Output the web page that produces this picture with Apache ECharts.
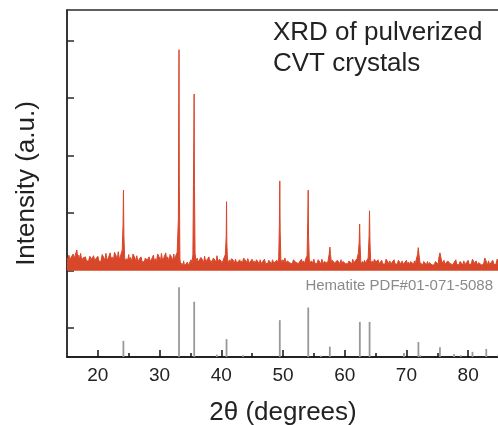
<!DOCTYPE html>
<html>
<head>
<meta charset="utf-8">
<script src="https://cdn.jsdelivr.net/npm/echarts@6/dist/echarts.min.js"></script>
<style>
  html, body { margin: 0; padding: 0; background: #fff; }
  #main { width: 498px; height: 425px; }
</style>
</head>
<body>
<div id="main"></div>
<script>
// measured XRD pattern, [2theta, intensity] (intensity in arbitrary units)
var pattern = [
  [15.0,1.72],[15.2,1.68],[15.3,1.77],[15.5,1.69],[15.7,1.74],
  [16.0,1.79],[16.15,1.70],[16.3,1.76],[16.6,1.86],[16.75,1.71],
  [16.9,1.77],[17.05,1.69],[17.2,1.80],[17.4,1.68],[17.6,1.72],
  [18.0,1.74],[18.15,1.67],[18.3,1.70],[18.5,1.67],[18.7,1.75],
  [19.0,1.70],[19.15,1.67],[19.3,1.76],[19.5,1.67],[19.7,1.71],
  [20.0,1.75],[20.15,1.67],[20.3,1.70],[20.5,1.66],[20.7,1.78],
  [21.0,1.72],[21.15,1.67],[21.3,1.80],[21.5,1.68],[21.7,1.72],
  [22.0,1.81],[22.15,1.68],[22.3,1.74],[22.5,1.67],[22.7,1.82],
  [23.0,1.75],[23.15,1.69],[23.3,1.83],[23.5,1.69],[23.7,1.77],
  [23.95,1.86],[24.08,2.30],[24.15,2.90],[24.22,2.10],[24.35,1.72],
  [24.5,1.67],[24.7,1.71],[24.85,1.67],[25.0,1.78],[25.15,1.67],[25.3,1.73],[25.5,1.66],[25.7,1.79],
  [26.0,1.72],[26.15,1.66],[26.3,1.76],[26.5,1.66],[26.7,1.70],
  [27.0,1.74],[27.15,1.66],[27.3,1.69],[27.5,1.65],[27.7,1.72],
  [28.0,1.68],[28.15,1.65],[28.3,1.74],[28.5,1.66],[28.7,1.70],
  [29.0,1.77],[29.15,1.66],[29.3,1.71],[29.5,1.66],[29.7,1.79],
  [30.0,1.72],[30.15,1.67],[30.3,1.80],[30.5,1.67],[30.7,1.73],
  [31.0,1.81],[31.15,1.68],[31.3,1.74],[31.5,1.67],[31.7,1.78],
  [32.0,1.72],[32.15,1.67],[32.3,1.79],[32.45,1.68],[32.6,1.75],[32.85,1.82],
  [33.05,2.40],[33.1,4.05],[33.15,5.34],[33.2,3.00],[33.3,1.70],
  [33.45,1.58],[33.6,1.63],[33.75,1.57],[33.9,1.67],[34.05,1.58],[34.2,1.60],[34.35,1.57],
  [34.5,1.65],[34.65,1.59],[34.8,1.62],[34.95,1.59],[35.1,1.69],[35.25,1.62],[35.4,1.78],
  [35.55,3.80],[35.6,4.57],[35.65,3.00],[35.75,1.80],
  [35.9,1.66],[36.1,1.72],[36.25,1.65],[36.4,1.68],[36.55,1.64],[36.7,1.73],
  [37.0,1.68],[37.15,1.64],[37.3,1.75],[37.5,1.65],[37.7,1.69],
  [38.0,1.74],[38.15,1.64],[38.3,1.68],[38.5,1.64],[38.7,1.72],
  [39.0,1.68],[39.15,1.64],[39.3,1.76],[39.5,1.65],[39.7,1.70],
  [40.0,1.73],[40.15,1.64],[40.3,1.68],[40.45,1.65],[40.65,1.78],
  [40.8,2.10],[40.85,2.70],[40.9,2.00],[41.0,1.70],
  [41.2,1.64],[41.4,1.69],[41.55,1.64],[41.7,1.71],
  [42.0,1.67],[42.15,1.63],[42.3,1.70],[42.5,1.63],[42.7,1.66],
  [43.0,1.69],[43.15,1.63],[43.3,1.67],[43.45,1.63],[43.6,1.72],
  [44.0,1.67],[44.15,1.63],[44.3,1.71],[44.5,1.63],[44.7,1.66],
  [45.0,1.70],[45.15,1.63],[45.3,1.67],[45.5,1.63],[45.7,1.69],
  [46.0,1.66],[46.15,1.62],[46.3,1.69],[46.5,1.62],[46.7,1.66],
  [47.0,1.70],[47.15,1.63],[47.3,1.66],[47.5,1.62],[47.7,1.68],
  [48.0,1.66],[48.15,1.62],[48.3,1.69],[48.5,1.63],[48.7,1.65],
  [49.0,1.68],[49.15,1.63],[49.3,1.72],[49.42,2.30],[49.48,3.06],[49.54,2.20],[49.65,1.70],
  [49.8,1.64],[50.0,1.69],[50.15,1.63],[50.3,1.72],[50.5,1.63],[50.7,1.67],
  [51.0,1.70],[51.15,1.63],[51.3,1.66],[51.5,1.62],[51.7,1.69],
  [52.0,1.65],[52.15,1.62],[52.3,1.68],[52.5,1.62],[52.7,1.66],
  [53.0,1.70],[53.15,1.63],[53.3,1.67],[53.5,1.63],[53.7,1.71],
  [53.9,1.76],[54.02,2.40],[54.08,2.90],[54.14,2.10],[54.25,1.70],
  [54.4,1.63],[54.6,1.67],[54.8,1.63],[55.0,1.70],[55.15,1.63],[55.3,1.66],[55.5,1.62],[55.7,1.69],
  [56.0,1.66],[56.15,1.62],[56.3,1.70],[56.5,1.62],[56.7,1.66],
  [57.0,1.68],[57.15,1.63],[57.3,1.67],[57.5,1.80],[57.6,1.91],[57.7,1.78],[57.85,1.64],
  [58.0,1.68],[58.2,1.70],[58.35,1.63],[58.5,1.66],[58.65,1.62],[58.8,1.68],
  [59.1,1.65],[59.25,1.62],[59.4,1.69],[59.55,1.62],[59.7,1.66],
  [60.0,1.68],[60.15,1.62],[60.3,1.65],[60.5,1.62],[60.7,1.67],
  [61.0,1.65],[61.15,1.62],[61.3,1.70],[61.5,1.63],[61.7,1.67],
  [62.0,1.71],[62.2,1.80],[62.35,2.00],[62.42,2.31],[62.49,1.95],[62.6,1.66],
  [62.75,1.62],[62.9,1.66],[63.05,1.62],[63.2,1.68],[63.35,1.63],[63.5,1.66],[63.65,1.63],[63.8,1.72],
  [63.95,2.10],[64.02,2.54],[64.09,2.00],[64.2,1.68],
  [64.35,1.63],[64.5,1.67],[64.65,1.62],[64.8,1.70],
  [65.1,1.65],[65.25,1.62],[65.4,1.69],[65.55,1.62],[65.7,1.65],
  [66.0,1.68],[66.15,1.62],[66.3,1.65],[66.5,1.61],[66.7,1.70],
  [67.0,1.65],[67.15,1.61],[67.3,1.67],[67.5,1.61],[67.7,1.65],
  [68.0,1.69],[68.15,1.62],[68.3,1.65],[68.5,1.61],[68.7,1.68],
  [69.0,1.65],[69.15,1.61],[69.3,1.67],[69.5,1.61],[69.7,1.64],
  [70.0,1.68],[70.15,1.61],[70.3,1.65],[70.5,1.61],[70.7,1.66],
  [71.0,1.64],[71.15,1.61],[71.3,1.67],[71.45,1.62],[71.6,1.70],[71.8,1.78],[71.92,1.90],[72.05,1.76],[72.2,1.64],
  [72.35,1.61],[72.5,1.64],[72.65,1.60],[72.8,1.66],
  [73.1,1.63],[73.25,1.60],[73.4,1.66],[73.55,1.60],[73.7,1.64],
  [74.0,1.67],[74.15,1.60],[74.3,1.63],[74.5,1.60],[74.7,1.66],
  [75.0,1.64],[75.15,1.61],[75.25,1.72],[75.43,1.81],[75.6,1.72],[75.8,1.63],
  [75.95,1.61],[76.1,1.68],[76.25,1.61],[76.4,1.64],[76.55,1.60],[76.7,1.67],
  [77.0,1.63],[77.15,1.60],[77.3,1.66],[77.5,1.60],[77.7,1.64],
  [78.0,1.69],[78.15,1.61],[78.3,1.64],[78.5,1.60],[78.7,1.66],
  [79.0,1.63],[79.15,1.60],[79.3,1.67],[79.5,1.60],[79.7,1.64],
  [80.0,1.68],[80.15,1.61],[80.3,1.64],[80.5,1.61],[80.7,1.70],
  [81.0,1.63],[81.15,1.60],[81.3,1.67],[81.5,1.60],[81.7,1.64],
  [82.0,1.66],[82.15,1.60],[82.3,1.63],[82.5,1.61],[82.7,1.72],
  [83.0,1.64],[83.15,1.60],[83.3,1.67],[83.5,1.60],[83.7,1.64],
  [84.0,1.68],[84.15,1.61],[84.3,1.64],[84.5,1.61],[84.7,1.70],[85.0,1.66]
];

// hematite reference lines (PDF#01-071-5088)
var refAngle = [24.14, 33.15, 35.61, 39.28, 40.85, 43.52, 49.48, 54.09, 56.15, 57.59,
  62.45, 64.03, 69.6, 71.94, 72.26, 75.43, 77.73, 78.8, 80.7, 82.94, 84.9];
var refInt = [0.28, 1.21, 0.96, 0.04, 0.31, 0.03, 0.64, 0.86, 0.02, 0.18,
  0.61, 0.61, 0.07, 0.26, 0.03, 0.17, 0.05, 0.03, 0.09, 0.14, 0.04];

var majorTicks = [20, 30, 40, 50, 60, 70, 80];
var minorTicks = [25, 35, 45, 55, 65, 75];
var yTicks = [0.5, 1.5, 2.5, 3.5, 4.5, 5.5];
var baseline = 1.5;

var refData = refAngle.map(function (a, i) { return [a, refInt[i]]; });

var chart = echarts.init(document.getElementById('main'), null, { renderer: 'canvas' });
var font = 'Liberation Sans, Arial, sans-serif';

var option = {
  animation: false,
  grid: {
    left: 67, right: -1, top: 10, bottom: 68,
    outerBoundsMode: 'none',
    containLabel: false,
    show: true, borderColor: '#2a2a2a', borderWidth: 1.5
  },
  xAxis: [{
    type: 'value',
    min: 15, max: 85,
    name: '2θ (degrees)',
    nameLocation: 'middle',
    nameGap: 43,
    nameTextStyle: { fontFamily: font, fontSize: 26, color: '#222' },
    axisLine: { lineStyle: { color: '#111', width: 1.5 } },
    axisTick: { inside: true, length: 7, customValues: majorTicks, lineStyle: { color: '#111', width: 1.5 } },
    axisLabel: { customValues: majorTicks, fontFamily: font, fontSize: 19, color: '#222', margin: 9 },
    splitLine: { show: false }
  }, {
    type: 'value',
    min: 15, max: 85,
    position: 'bottom',
    axisLine: { show: false },
    axisTick: { inside: true, length: 4, customValues: minorTicks, lineStyle: { color: '#111', width: 1.5 } },
    axisLabel: { show: false },
    splitLine: { show: false }
  }],
  yAxis: {
    type: 'value',
    min: 0, max: 6.03,
    name: 'Intensity (a.u.)',
    nameLocation: 'middle',
    nameGap: 27,
    nameTextStyle: { fontFamily: font, fontSize: 26, color: '#222' },
    axisLine: { show: true, lineStyle: { color: '#2a2a2a', width: 1.5 } },
    axisTick: { inside: true, length: 7, customValues: yTicks, lineStyle: { color: '#2a2a2a', width: 1.5 } },
    axisLabel: { show: false },
    splitLine: { show: false }
  },
  graphic: [{
    type: 'text', left: 273, top: 17,
    style: { text: 'XRD of pulverized\nCVT crystals', font: '26px ' + font, fill: '#222', lineHeight: 31 }
  }, {
    type: 'text', right: 5, top: 278,
    style: { text: 'Hematite PDF#01-071-5088', font: '15px ' + font, fill: '#8a8a8a' }
  }],
  series: [{
    type: 'bar',
    data: refData,
    barWidth: 1.8,
    itemStyle: { color: '#999999' },
    z: 1
  }, {
    type: 'line',
    data: pattern,
    symbol: 'none',
    lineStyle: { color: '#d9472a', width: 1 },
    areaStyle: { color: '#d9472a', opacity: 1, origin: baseline },
    z: 2
  }]
};

chart.setOption(option);
</script>
</body>
</html>
